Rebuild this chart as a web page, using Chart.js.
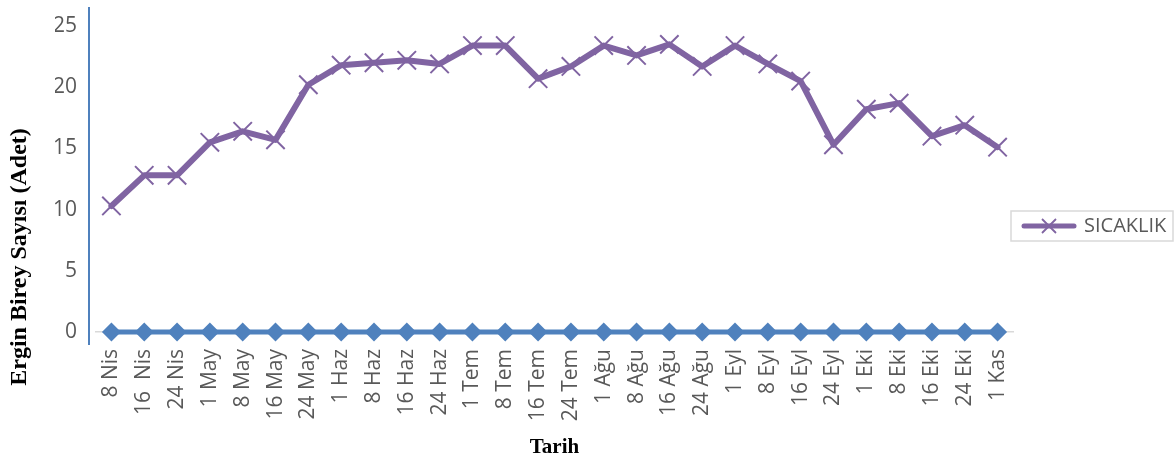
<!DOCTYPE html>
<html><head><meta charset="utf-8">
<script src="https://cdn.jsdelivr.net/npm/chart.js@4.4.1/dist/chart.umd.min.js"></script>
<style>html,body{margin:0;padding:0;background:#fff;overflow:hidden}</style>
</head><body>
<canvas id="c" width="1176" height="457"></canvas>
<script>
const categories = ["8 Nis","16  Nis","24 Nis","1 May","8 May","16 May","24 May","1 Haz","8 Haz","16 Haz","24 Haz","1 Tem","8 Tem","16 Tem","24 Tem","1 Ağu","8 Ağu","16 Ağu","24 Ağu","1 Eyl","8 Eyl","16 Eyl","24 Eyl","1 Eki","8 Eki","16 Eki","24 Eki","1 Kas"];
const sicaklik = [10.3,12.8,12.8,15.5,16.4,15.7,20.2,21.8,22.0,22.2,21.9,23.4,23.4,20.7,21.7,23.4,22.6,23.5,21.7,23.4,21.9,20.5,15.3,18.2,18.7,16.0,16.9,15.1];
const erginBirey = [0,0,0,0,0,0,0,0,0,0,0,0,0,0,0,0,0,0,0,0,0,0,0,0,0,0,0,0];
const yTickValues = [0,5,10,15,20,25];
const seriesNames = ["SICAKLIK","Ergin Birey Sayısı"];
const yTitle = "Ergin Birey Sayısı (Adet)";
const xTitle = "Tarih";

const PURPLE = '#8064a2', BLUE = '#4f81bd', GRAY = '#595959';

// legend sample: line with X marker
const sample = document.createElement('canvas');
sample.width = 58; sample.height = 20;
(function(){
  const g = sample.getContext('2d');
  g.strokeStyle = PURPLE; g.lineCap = 'round';
  g.lineWidth = 5; g.beginPath(); g.moveTo(4,10); g.lineTo(54,10); g.stroke();
  g.lineWidth = 1.8; g.lineCap = 'butt'; g.beginPath();
  g.moveTo(22,3); g.lineTo(36,17); g.moveTo(36,3); g.lineTo(22,17); g.stroke();
})();

const layoutPlugin = {
  id: 'layoutTweaks',
  beforeLayout(chart) {
    const lg = chart.legend;
    if (lg && !lg._wrapped) {
      const f = lg.fit.bind(lg);
      lg.fit = function(){ f(); this.width = 162; };
      lg._wrapped = true;
    }
  },
  afterLayout(chart) {
    const lg = chart.legend;
    if (lg) {
      const h = lg.height;
      lg.top = 226 - 10 - 10;
      lg.bottom = lg.top + h;
    }
  },
  afterDraw(chart) {
    const ctx = chart.ctx, ca = chart.chartArea, lg = chart.legend;
    ctx.save();
    // left axis line
    ctx.strokeStyle = BLUE; ctx.lineWidth = 2;
    ctx.beginPath(); ctx.moveTo(ca.left - 6, ca.top - 8); ctx.lineTo(ca.left - 6, ca.bottom); ctx.stroke();
    // legend border
    if (lg && lg.legendHitBoxes && lg.legendHitBoxes.length) {
      const hb = lg.legendHitBoxes[0];
      const cy = hb.top + hb.height/2;
      ctx.strokeStyle = '#d9d9d9'; ctx.lineWidth = 1.5;
      ctx.strokeRect(lg.left - 3, cy - 15, 162, 30);
    }
    // y axis title
    ctx.translate(20, 257); ctx.rotate(-Math.PI/2);
    ctx.font = 'bold 24px "Liberation Serif", "Times New Roman", serif';
    ctx.fillStyle = '#000'; ctx.textAlign = 'center'; ctx.textBaseline = 'middle';
    ctx.fillText(yTitle, 0, 0);
    ctx.restore();
  }
};

new Chart(document.getElementById('c'), {
  type: 'line',
  data: {
    labels: categories,
    datasets: [
      {
        label: seriesNames[0], data: sicaklik,
        borderColor: PURPLE, backgroundColor: PURPLE, borderWidth: 6,
        borderJoinStyle: 'round', borderCapStyle: 'round', tension: 0,
        pointStyle: 'crossRot', pointRadius: 13, pointBorderWidth: 2,
        pointBorderColor: PURPLE, pointBackgroundColor: PURPLE, pointHoverRadius: 13
      },
      {
        label: seriesNames[1], data: erginBirey,
        borderColor: BLUE, backgroundColor: BLUE, borderWidth: 5, tension: 0,
        pointStyle: 'rectRot', pointRadius: 9.5, pointBorderWidth: 0,
        pointBackgroundColor: BLUE, pointHoverRadius: 9.5
      }
    ]
  },
  options: {
    responsive: false, animation: false, devicePixelRatio: 1,
    layout: { padding: { left: 55, top: 6, right: 0, bottom: 0 } },
    plugins: {
      tooltip: { enabled: false },
      legend: {
        position: 'right', align: 'start',
        labels: {
          usePointStyle: true, pointStyleWidth: 50, padding: 10,
          color: GRAY, font: { family: '"Open Sans"', size: 20 },
          filter: (item) => item.datasetIndex === 0,
          generateLabels: (chart) => [{
            text: seriesNames[0], pointStyle: sample, datasetIndex: 0,
            fontColor: GRAY, lineWidth: 0, strokeStyle: 'transparent', fillStyle: 'transparent', hidden: false
          }]
        }
      }
    },
    scales: {
      x: {
        offset: true,
        grid: { display: false, drawTicks: false },
        border: { display: false },
        ticks: { color: GRAY, font: { family: '"Open Sans"', size: 21 }, maxRotation: 90, minRotation: 90, autoSkip: false, padding: 4 },
        title: { display: true, text: xTitle, color: '#000', font: { family: '"Liberation Serif"', size: 21, weight: 'bold' }, padding: { top: 0, bottom: -3 } },
        afterFit: (s) => { s.height = 112; }
      },
      y: {
        min: -1.06, max: 25.9,
        afterBuildTicks: (s) => { s.ticks = yTickValues.map(v => ({ value: v })); },
        grid: { drawTicks: false, lineWidth: 1.5, color: (c) => (c.tick && c.tick.value === 0) ? '#d9d9d9' : 'rgba(0,0,0,0)' },
        border: { display: false },
        ticks: { color: GRAY, font: { family: '"Open Sans"', size: 21 }, padding: 18 },
        afterFit: (s) => { s.width = 40; s.paddingTop = 0; s.paddingBottom = 0; }
      }
    }
  },
  plugins: [layoutPlugin]
});
</script>
</body></html>
